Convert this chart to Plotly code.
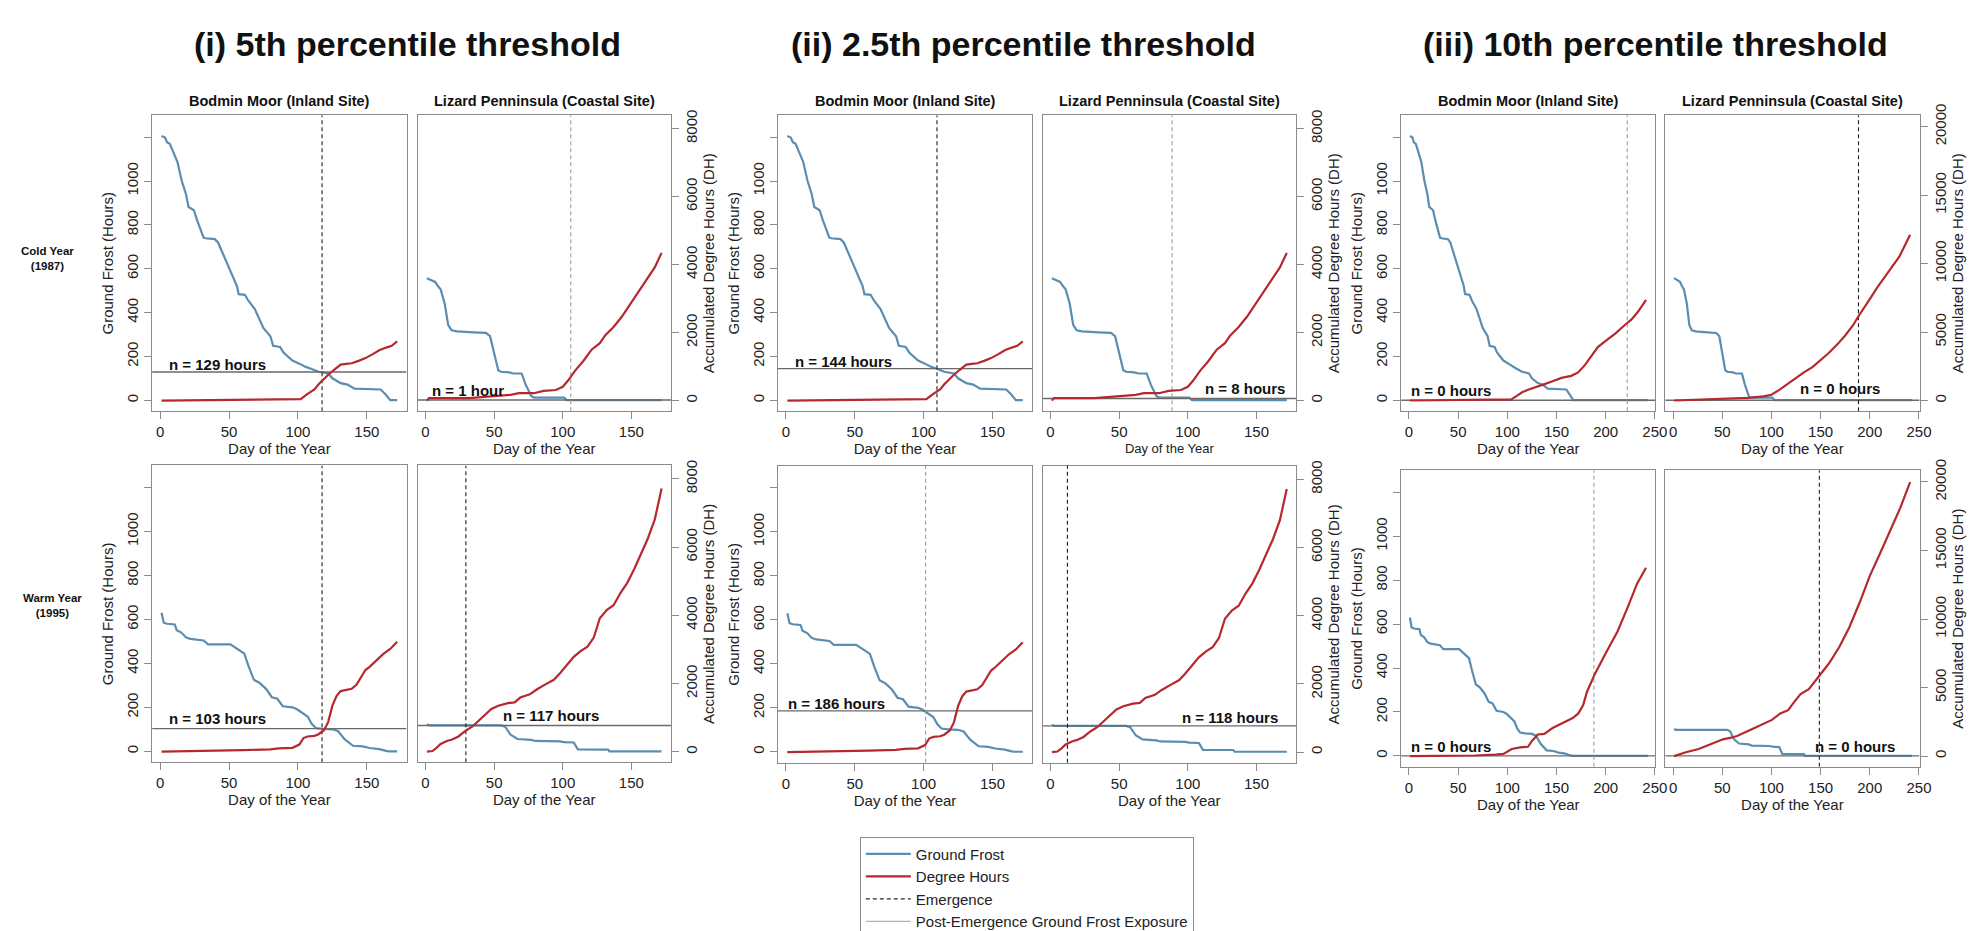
import plotly.graph_objects as go

# ---------------- data ----------------
GROUP_TITLES = ["(i) 5th percentile threshold", "(ii) 2.5th percentile threshold", "(iii) 10th percentile threshold"]
SITES = ["Bodmin Moor (Inland Site)", "Lizard Penninsula (Coastal Site)"]
YEARS = ["Cold Year<br>(1987)", "Warm Year<br>(1995)"]

# Ground frost (hours remaining) by day of year
GF_BODMIN_COLD_DAY = [1, 3.5, 5, 7, 9, 12.5, 15.7, 18.7, 20.6, 23, 24.5, 26.7, 31.5, 33, 39.6, 42, 46, 51, 55.7, 57, 61.5, 64, 68.6, 75, 80, 82, 87, 89.5, 96, 101, 105.6, 109, 115, 122, 125, 131, 136, 141, 160, 163.5, 167, 172, 243]
GF_BODMIN_COLD_VAL = [1206, 1199, 1177, 1170, 1140, 1088, 1000, 941, 882, 875, 867, 823, 742, 739, 735, 720, 661, 587, 521, 484, 481, 454, 417, 329, 292, 248, 243, 218, 181, 167, 152, 145, 130, 122, 100, 78, 71, 53, 49, 27, 0, 0, 0]

GF_LIZARD_COLD_DAY = [1, 5, 7, 9, 11, 14, 16.5, 19, 23, 35, 44, 47, 50, 53, 55, 61, 64, 70, 73, 77, 79, 101, 103, 172, 243]
GF_LIZARD_COLD_VAL = [557, 544, 540, 521, 506, 440, 344, 319, 314, 310, 307, 292, 218, 137, 130, 127, 122, 122, 71, 19, 12, 12, 0, 0, 0]

GF_BODMIN_WARM_DAY = [1, 2.6, 5, 10.6, 12, 15.4, 18.7, 22, 31.5, 34.8, 51, 54, 59, 61, 64, 68, 72, 77, 81, 85, 89, 96, 99, 104, 107, 110, 113, 118, 125, 129, 134, 140, 147, 152, 159, 164, 166, 172, 243]
GF_BODMIN_WARM_VAL = [630, 585, 580, 577, 551, 540, 518, 511, 504, 486, 486, 474, 452, 445, 390, 325, 312, 283, 246, 239, 205, 200, 192, 172, 158, 125, 106, 102, 100, 92, 54, 25, 22, 15, 10, 2, 0, 0, 0]

GF_LIZARD_WARM_DAY = [1, 3, 55, 58, 62, 67, 77, 80, 98, 101, 108, 111, 133, 134, 172, 243]
GF_LIZARD_WARM_VAL = [122, 118, 118, 112, 75, 56, 52, 47, 45, 42, 40, 9, 8, 0, 0, 0]

# Accumulated degree hours, 5th and 2.5th percentile panels
DH12_BODMIN_COLD_DAY = [1, 60, 83, 102, 107, 112, 115, 119, 122, 126, 131, 135, 139, 144, 149, 154, 159, 164, 168, 172]
DH12_BODMIN_COLD_VAL = [0, 20, 30, 45, 200, 330, 480, 650, 760, 900, 1060, 1080, 1100, 1170, 1250, 1360, 1480, 1560, 1610, 1740]

DH12_LIZARD_COLD_DAY = [1, 2.5, 32, 47, 62, 68, 79, 86, 95, 100, 104, 109, 115, 121, 127, 131, 137, 143, 149, 155, 161, 167, 172]
DH12_LIZARD_COLD_VAL = [0, 76, 76, 123, 171, 218, 218, 285, 313, 408, 598, 883, 1167, 1499, 1689, 1926, 2164, 2467, 2828, 3208, 3587, 3919, 4346]

DH12_BODMIN_WARM_DAY = [1, 35, 60, 80, 86, 96, 101, 104, 107, 112, 115, 119, 122, 125, 128, 131, 134.5, 139, 142.6, 146, 149, 152, 157, 162, 167, 172]
DH12_BODMIN_WARM_VAL = [0, 19, 48, 67, 95, 114, 209, 399, 447, 466, 513, 637, 874, 1349, 1634, 1777, 1805, 1843, 1967, 2204, 2394, 2489, 2679, 2869, 3012, 3220]

DH12_LIZARD_WARM_DAY = [1, 5, 8, 11, 16, 19, 24, 29, 34, 39, 43.5, 48, 53, 60, 65, 69, 76, 81, 87, 93.5, 98, 103, 108, 113, 118, 122.6, 127, 132, 137, 142, 147, 152, 157, 162, 167, 172]
DH12_LIZARD_WARM_VAL = [0, 19, 114, 228, 323, 352, 447, 608, 732, 922, 1112, 1254, 1349, 1425, 1444, 1587, 1682, 1824, 1967, 2109, 2299, 2550, 2780, 2950, 3080, 3344, 3914, 4152, 4294, 4650, 4950, 5350, 5800, 6250, 6800, 7714]

# Accumulated degree hours, 10th percentile panels
DH3_BODMIN_COLD_DAY = [1, 100, 104, 110, 115, 121, 129, 137, 146, 155, 165, 172, 179, 185, 192, 200, 210, 220, 226, 233, 241]
DH3_BODMIN_COLD_VAL = [0, 50, 80, 350, 600, 780, 1000, 1180, 1400, 1650, 1800, 2050, 2600, 3200, 3900, 4350, 4900, 5550, 5900, 6500, 7350]

DH3_LIZARD_COLD_DAY = [1, 34, 59, 76, 92, 100, 108, 117, 125, 133, 142, 150, 158, 167, 175, 183, 188, 200, 208, 220, 230, 241]
DH3_LIZARD_COLD_VAL = [0, 70, 140, 190, 300, 420, 780, 1250, 1650, 2050, 2450, 2950, 3450, 4100, 4750, 5500, 6100, 7400, 8300, 9500, 10500, 12100]

DH3_BODMIN_WARM_DAY = [1, 67, 88, 96, 104.5, 113, 121, 125, 131, 137.6, 146, 156, 166, 172, 177, 181, 189, 200, 212, 222, 232, 241]
DH3_BODMIN_WARM_VAL = [0, 47, 118, 165, 519, 637, 685, 1110, 1582, 1629, 2054, 2408, 2762, 3100, 3700, 4700, 6000, 7500, 9100, 10800, 12600, 13750]

DH3_LIZARD_WARM_DAY = [1, 13, 26, 38, 50.7, 59, 65, 75.6, 88, 100.5, 109, 117, 123, 129.6, 138, 148, 158.6, 169, 179, 190, 200, 210.5, 221, 231, 241]
DH3_LIZARD_WARM_VAL = [0, 283, 519, 874, 1228, 1346, 1464, 1818, 2243, 2644, 3117, 3353, 3943, 4533, 4887, 5832, 6776, 7957, 9373, 11262, 13151, 14803, 16456, 18109, 19998]

# Emergence day and post-emergence ground frost exposure (n hours), [group][year][site]
EMERGENCE = [[[117.5, 105.8], [117.5, 29.4]],
             [[109.7, 88.5], [101.4, 12.3]],
             [[221.9, 188.5], [188.0, 148.7]]]
EXPOSURE = [[[129, 1], [103, 117]],
            [[144, 8], [186, 118]],
            [[0, 0], [0, 0]]]
EXPOSURE_LABELS = [[["n = 129 hours", "n = 1 hour"], ["n = 103 hours", "n = 117 hours"]],
                   [["n = 144 hours", "n = 8 hours"], ["n = 186 hours", "n = 118 hours"]],
                   [["n = 0 hours", "n = 0 hours"], ["n = 0 hours", "n = 0 hours"]]]
LABEL_POS = [[[(4.8, 164), (3.2, 46)], [(4.8, 150), (54.8, 162)]],
             [[(4.8, 178), (111, 52)], [(0, 221), (94.5, 158)]],
             [[(0, 44), (127.5, 52)], [(0, 44), (142, 44)]]]

LAST_DAY = [172, 172, 243]
X_TICKS = [[0, 50, 100, 150], [0, 50, 100, 150], [0, 50, 100, 150, 200, 250]]
GF_TICKS = [0, 200, 400, 600, 800, 1000, 1200]
GF_TICKTEXT = ["0", "200", "400", "600", "800", "1000", ""]
DH_TICKS = [[0, 2000, 4000, 6000, 8000], [0, 2000, 4000, 6000, 8000], [0, 5000, 10000, 15000, 20000]]
DH_TICKTEXT = [["0", "2000", "4000", "6000", "8000"], ["0", "2000", "4000", "6000", "8000"],
               ["0", "5000", "10000", "15000", "20000"]]

GF = {(0, 0): (GF_BODMIN_COLD_DAY, GF_BODMIN_COLD_VAL), (0, 1): (GF_LIZARD_COLD_DAY, GF_LIZARD_COLD_VAL),
      (1, 0): (GF_BODMIN_WARM_DAY, GF_BODMIN_WARM_VAL), (1, 1): (GF_LIZARD_WARM_DAY, GF_LIZARD_WARM_VAL)}
DH12 = {(0, 0): (DH12_BODMIN_COLD_DAY, DH12_BODMIN_COLD_VAL), (0, 1): (DH12_LIZARD_COLD_DAY, DH12_LIZARD_COLD_VAL),
        (1, 0): (DH12_BODMIN_WARM_DAY, DH12_BODMIN_WARM_VAL), (1, 1): (DH12_LIZARD_WARM_DAY, DH12_LIZARD_WARM_VAL)}
DH3 = {(0, 0): (DH3_BODMIN_COLD_DAY, DH3_BODMIN_COLD_VAL), (0, 1): (DH3_LIZARD_COLD_DAY, DH3_LIZARD_COLD_VAL),
       (1, 0): (DH3_BODMIN_WARM_DAY, DH3_BODMIN_WARM_VAL), (1, 1): (DH3_LIZARD_WARM_DAY, DH3_LIZARD_WARM_VAL)}

# ---------------- layout / style ----------------
W, H = 1984, 931
FONT = "Liberation Sans, Arial, Helvetica, sans-serif"
BLUE = "#5b8db0"
RED = "#b7282e"
FRAME = "#8a8a8a"
TXT = "#222222"
DARK_DASH = "#1e1e1e"
LIGHT_DASH = "#9c9c9c"
# rendering shade of each emergence line, [group][year][site]
EMERGENCE_SHADE = [[[DARK_DASH, LIGHT_DASH], [DARK_DASH, DARK_DASH]],
                   [[DARK_DASH, LIGHT_DASH], [LIGHT_DASH, DARK_DASH]],
                   [[LIGHT_DASH, DARK_DASH], [LIGHT_DASH, DARK_DASH]]]

X_RANGE = [[-5.84, 178.84], [-5.84, 178.84], [-8.0, 250.6]]
GF_RANGE = [-50, 1300]
DH_RANGE = [[[-310, 8390], [-310, 8390]], [[-310, 8390], [-310, 8390]], [[-780, 20830], [-780, 20850]]]

XDOM = {(0, 0): (145, 401), (0, 1): (412, 667),
        (1, 0): (774.6, 1030.4), (1, 1): (1040.8, 1296),
        (2, 0): (1401.6, 1657.5), (2, 1): (1667.3, 1923.2)}
YDOM = {(0, 0): (98.3, 403.3), (0, 1): (459.3, 765.3),
        (1, 0): (98.3, 403.3), (1, 1): (459.8, 765.8),
        (2, 0): (98.3, 403.3), (2, 1): (464.3, 770.0)}
TITLE_X = [402, 1022, 1658]


def px_x(v):
    return v / W


def px_y(v):
    return 1 - v / H


def nm(prefix, k):
    return prefix if k == 1 else f"{prefix}{k}"


fig = go.Figure()
layout = {}
annotations = []

for g in range(3):
    for r in range(2):
        for s in range(2):
            i = g * 4 + r * 2 + s
            xk, ylk, yrk = i + 1, 2 * i + 1, 2 * i + 2
            xref, ylref, yrref = nm("x", xk), nm("y", ylk), nm("y", yrk)
            x0, x1 = XDOM[(g, s)]
            y0, y1 = YDOM[(g, r)]
            xr = X_RANGE[g]
            last = LAST_DAY[g]

            # frost line
            d, v = GF[(r, s)]
            gd = [a for a in d if a <= last]
            gv = [b for a, b in zip(d, v) if a <= last]
            fig.add_trace(go.Scatter(x=gd, y=gv, mode="lines", line=dict(color=BLUE, width=2.2),
                                     xaxis=xref, yaxis=ylref, showlegend=False, hoverinfo="skip"))
            # degree hours line
            dd, dv = (DH3 if g == 2 else DH12)[(r, s)]
            fig.add_trace(go.Scatter(x=dd, y=dv, mode="lines", line=dict(color=RED, width=2.2),
                                     xaxis=xref, yaxis=yrref, showlegend=False, hoverinfo="skip"))
            # post-emergence exposure line
            n = EXPOSURE[g][r][s]
            fig.add_trace(go.Scatter(x=[xr[0], xr[1]], y=[n, n], mode="lines",
                                     line=dict(color="#6a6a6a", width=1.4),
                                     xaxis=xref, yaxis=ylref, showlegend=False, hoverinfo="skip"))
            # emergence line
            e = EMERGENCE[g][r][s]
            fig.add_trace(go.Scatter(x=[e, e], y=GF_RANGE, mode="lines",
                                     line=dict(color=EMERGENCE_SHADE[g][r][s], width=1.1, dash="4px,3px"),
                                     xaxis=xref, yaxis=ylref, showlegend=False, hoverinfo="skip"))

            is_left = s == 0
            xtitle_size = 13 if (g == 1 and r == 0 and s == 1) else 15
            layout[nm("xaxis", xk)] = dict(
                domain=[px_x(x0), px_x(x1)], range=xr, anchor=ylref,
                tickvals=X_TICKS[g], ticks="outside", ticklen=7, tickcolor=FRAME, tickwidth=1,
                tickfont=dict(size=15, color=TXT, family=FONT),
                showline=True, mirror=True, linecolor=FRAME, linewidth=1,
                showgrid=False, zeroline=False, fixedrange=True,
                title=dict(text="Day of the Year", font=dict(size=xtitle_size, color=TXT, family=FONT), standoff=4),
            )
            layout[nm("yaxis", ylk)] = dict(
                domain=[px_y(y1), px_y(y0)], range=GF_RANGE, anchor=xref,
                tickvals=GF_TICKS, ticktext=GF_TICKTEXT, tickangle=-90,
                ticks="outside" if is_left else "", ticklen=7, tickcolor=FRAME,
                showticklabels=is_left,
                tickfont=dict(size=15, color=TXT, family=FONT),
                showline=True, mirror=True, linecolor=FRAME, linewidth=1,
                showgrid=False, zeroline=False, fixedrange=True,
                title=dict(text="Ground Frost (Hours)" if is_left else "",
                           font=dict(size=15, color=TXT, family=FONT), standoff=6),
            )
            layout[nm("yaxis", yrk)] = dict(
                overlaying=ylref, anchor=xref, side="right", range=DH_RANGE[g][r],
                visible=not is_left,
                tickvals=DH_TICKS[g], ticktext=DH_TICKTEXT[g], tickangle=-90,
                ticks="outside", ticklen=7, tickcolor=FRAME,
                tickfont=dict(size=15, color=TXT, family=FONT),
                showline=False, showgrid=False, zeroline=False, fixedrange=True,
                title=dict(text="Accumulated Degree Hours (DH)" if not is_left else "",
                           font=dict(size=15, color=TXT, family=FONT), standoff=2),
            )

            lx, ly = LABEL_POS[g][r][s]
            annotations.append(dict(text="<b>" + EXPOSURE_LABELS[g][r][s] + "</b>", x=lx, y=ly,
                                    xref=xref, yref=ylref, xanchor="left", yanchor="middle",
                                    showarrow=False, font=dict(size=15, color="#111111", family=FONT)))
            if r == 0:
                annotations.append(dict(text="<b>" + SITES[s] + "</b>", x=px_x((x0 + x1) / 2), y=px_y(84),
                                        xref="paper", yref="paper", xanchor="center", yanchor="middle",
                                        showarrow=False, font=dict(size=14.5, color="#111111", family=FONT)))

    annotations.append(dict(text="<b>" + GROUP_TITLES[g] + "</b>", x=px_x(TITLE_X[g]), y=px_y(25),
                            xref="paper", yref="paper", xanchor="center", yanchor="middle",
                            showarrow=False, font=dict(size=34, color="#111111", family=FONT)))

annotations.append(dict(text="<b>" + YEARS[0] + "</b>", x=px_x(40), y=px_y(246), xref="paper", yref="paper",
                        xanchor="center", yanchor="middle", showarrow=False,
                        font=dict(size=11.5, color="#111111", family=FONT)))
annotations.append(dict(text="<b>" + YEARS[1] + "</b>", x=px_x(45), y=px_y(604), xref="paper", yref="paper",
                        xanchor="center", yanchor="middle", showarrow=False,
                        font=dict(size=11.5, color="#111111", family=FONT)))

# legend entries
LEGEND_ITEMS = ["Ground Frost", "Degree Hours", "Emergence", "Post-Emergence Ground Frost Exposure"]
legend_styles = [dict(color=BLUE, width=2.2), dict(color=RED, width=2.2),
                 dict(color="#2a2a2a", width=1.2, dash="4px,3px"), dict(color="#b4b4b4", width=1.2)]
for name, st in zip(LEGEND_ITEMS, legend_styles):
    fig.add_trace(go.Scatter(x=[None], y=[None], mode="lines", line=st, name=name,
                             xaxis="x", yaxis="y", showlegend=True, hoverinfo="skip"))

fig.update_layout(
    width=W, height=H, autosize=False,
    margin=dict(l=0, r=0, t=0, b=0),
    paper_bgcolor="white", plot_bgcolor="white",
    font=dict(family=FONT, color=TXT),
    annotations=annotations,
    showlegend=True,
    legend=dict(x=px_x(857), y=px_y(842), xanchor="left", yanchor="top",
                bordercolor="#8a8a8a", borderwidth=1, bgcolor="white",
                font=dict(size=15, color=TXT, family=FONT), itemwidth=45,
                tracegroupgap=0, traceorder="normal"),
    **layout,
)

fig.write_html("out.html")
